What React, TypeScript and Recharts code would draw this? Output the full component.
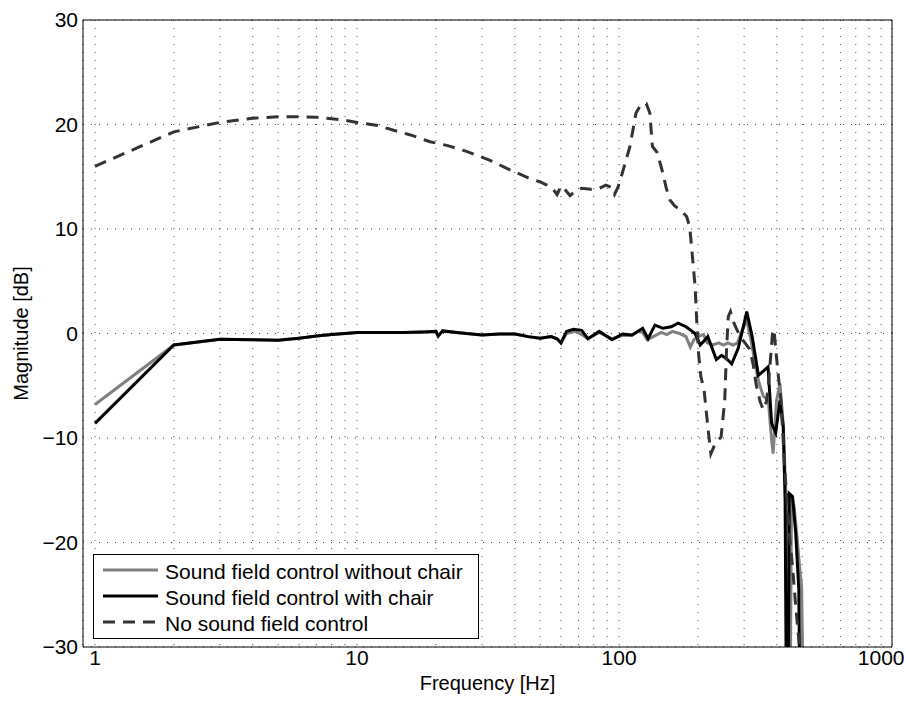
import { LineChart, Line, XAxis, YAxis, CartesianGrid } from "recharts";

const W = 906;
const H = 702;
const FONT = "'Liberation Sans', Arial, Helvetica, sans-serif";

// axis setup
const freqDomain = [0.9, 1100];
const dbDomain = [-30, 30];
const majorTicks = [1, 10, 100, 1000];
const allTicks = [
  1, 2, 3, 4, 5, 6, 7, 8, 9,
  10, 20, 30, 40, 50, 60, 70, 80, 90,
  100, 200, 300, 400, 500, 600, 700, 800, 900, 1000,
];
const dbTicks = [-30, -20, -10, 0, 10, 20, 30];

// Sound field control without chair (grey)
const withoutChairFreq = [
  1, 2, 3, 4, 5, 6, 7, 8, 9, 10, 12, 15, 18, 20, 20.4, 21.2, 25, 30, 35, 40, 45, 50, 55, 58, 60,
  63, 68, 72, 76, 84, 94, 103, 112, 118, 123, 128, 135, 145, 152, 160, 170, 180, 187, 193, 200,
  210, 217, 228, 240, 250, 260, 272, 283, 292, 300, 307, 320, 340, 355, 371, 382, 387, 399, 411,
  423, 436, 445, 450, 455, 465, 476, 487, 497, 504,
];
const withoutChairDb = [
  -6.8, -1.1, -0.55, -0.6, -0.65, -0.45, -0.25, -0.1, 0.0, 0.1, 0.1, 0.1, 0.15, 0.2, -0.25, 0.25,
  0.05, -0.15, -0.05, -0.05, -0.3, -0.45, -0.3, -0.5, -0.9,
  0.0, 0.2, -0.1, -0.5, 0.1, -0.5, -0.2, -0.2, 0.2, 0.1, -0.6, -0.3, 0.1, -0.1, 0.2, 0.0, -0.3,
  -1.3, -0.6, -0.3, -0.1, -0.9, -1.1, -0.9, -1.1, -0.9, -1.1, -0.9, 0.0, 0.7, 1.3, -0.9, -4.5,
  -6.0, -6.4, -10.2, -11.5, -6.4, -4.8, -8.6, -17.5, -34, -34, -15.6, -16.5, -19.1, -22.0, -24.2,
  -34,
];

// Sound field control with chair (black)
const withChairFreq = [
  1, 2, 3, 4, 5, 6, 7, 8, 9, 10, 12, 15, 18, 20, 20.4, 21.2, 25, 30, 35, 40, 45, 50, 55, 58, 60,
  63, 67, 72, 76, 84, 94, 103, 112, 123, 129, 137, 147, 158, 168, 180, 195, 204, 218, 235, 246,
  257, 269, 285, 300, 307, 322, 340, 355, 370, 382, 396, 411, 423, 430, 436, 441, 446, 459, 472,
  485, 492,
];
const withChairDb = [
  -8.6, -1.1, -0.55, -0.6, -0.65, -0.45, -0.25, -0.1, 0.0, 0.1, 0.1, 0.1, 0.15, 0.2, -0.25, 0.25,
  0.05, -0.15, -0.05, -0.05, -0.3, -0.45, -0.3, -0.5, -0.9,
  0.2, 0.4, 0.3, -0.5, 0.2, -0.6, -0.05, -0.15, 0.5, -0.5, 0.8, 0.5, 0.65, 1.0, 0.65, 0.0, -1.1,
  -0.3, -2.5, -2.1, -2.4, -2.9, -1.4, 1.0, 2.1, -0.3, -4.0, -3.6, -3.2, -8.6, -9.5, -6.4, -8.9,
  -16, -40, -40, -15.3, -15.6, -19.1, -24.5, -40,
];

// No sound field control (dashed)
const noControlFreq = [
  1, 2, 3, 4, 5, 6, 7, 8, 9, 10, 12, 14, 16, 19, 22, 26, 32, 38, 45, 50, 53, 56, 58, 60, 62, 65,
  68, 72, 78, 84, 89, 93, 96, 99, 103, 110, 116, 121, 127, 131, 134, 140, 147, 151, 156, 163, 172,
  181, 186, 189, 195, 198, 201, 205, 211, 218, 224, 233, 245, 253, 257, 261, 266, 272, 280, 290,
  300, 315, 325, 333, 345, 355, 365, 371, 378, 385, 390, 396, 405, 415, 428, 446, 459, 472, 485,
  500,
];
const noControlDb = [
  16.0, 19.3, 20.2, 20.6, 20.75, 20.75, 20.7, 20.55, 20.4, 20.2, 19.9, 19.4, 19.0, 18.35, 18.0,
  17.45, 16.6, 15.7, 14.9, 14.5, 14.2, 13.8, 13.3, 14.1, 13.8, 13.2, 13.6, 13.9, 13.8, 13.9, 14.2,
  14.0, 13.3, 14.0, 15.4, 17.9, 21.1, 21.9, 22.0, 21.1, 17.9, 17.3, 15.3, 14.0, 12.8, 12.2, 11.8,
  11.2, 10.2, 8.3, 4.5, 1.0, -1.9, -4.1, -5.4, -8.9, -11.5, -10.5, -9.9, -6.4, -1.6, 1.6, 2.1,
  1.2, 0.5, -0.3, -0.8, -1.5, -3.0, -4.8, -6.5, -7.3, -6.5, -5.1, -2.5, 0.0, 0.4, -1.5, -4.0,
  -6.5, -12.7, -19.1, -22.3, -26.1, -29.3, -34,
];

const toRows = (freq: number[], db: number[]) => freq.map((f, i) => ({ f, db: db[i] }));

const series = [
  { name: "Sound field control without chair", data: toRows(withoutChairFreq, withoutChairDb), color: "#808080", dash: undefined },
  { name: "Sound field control with chair", data: toRows(withChairFreq, withChairDb), color: "#000000", dash: undefined },
  { name: "No sound field control", data: toRows(noControlFreq, noControlDb), color: "#333333", dash: "12 8" },
];

const fmtDb = (v: number) => (v < 0 ? "\u2212" + Math.abs(v) : String(v));
const fmtFreq = (v: number) => (majorTicks.includes(v) ? String(v) : "");

function LegendBox() {
  return (
    <svg width={386} height={85} style={{ position: "absolute", left: 93, top: 554 }}>
      <rect x={0.5} y={0.5} width={385} height={84} fill="#fff" stroke="#000" strokeWidth={1} />
      {series.map((s, i) => (
        <g key={s.name}>
          <line
            x1={10}
            x2={65}
            y1={16 + i * 26}
            y2={16 + i * 26}
            stroke={s.color}
            strokeWidth={3}
            strokeDasharray={s.dash}
          />
          <text x={72} y={16 + i * 26 + 8.5} fontSize={21} fontFamily={FONT} fill="#000">
            {s.name}
          </text>
        </g>
      ))}
    </svg>
  );
}

const logAxis = { type: "number" as const, scale: "log" as const, domain: freqDomain, allowDataOverflow: true };
const dbAxis = { type: "number" as const, domain: dbDomain, allowDataOverflow: true, ticks: dbTicks };

export default function App() {
  return (
    <div style={{ position: "absolute", left: 0, top: 0, width: W, height: H, fontFamily: FONT, background: "#fff" }}>
      <LineChart width={W} height={H} margin={{ top: 20, right: 14, left: 0, bottom: 0 }}>
        <CartesianGrid xAxisId="x" yAxisId="y" stroke="#444" strokeDasharray="1 7" />

        {/* labelled bottom axis */}
        <XAxis
          xAxisId="x"
          dataKey="f"
          {...logAxis}
          ticks={allTicks}
          interval={0}
          tickFormatter={fmtFreq}
          tickLine={false}
          tickSize={0}
          tickMargin={3}
          height={55}
          stroke="#000"
          tick={{ fill: "#000", fontSize: 21, fontFamily: FONT }}
          label={{
            value: "Frequency [Hz]",
            position: "insideBottom",
            offset: 12,
            style: { fontSize: 20, fill: "#000", fontFamily: FONT },
          }}
        />
        {/* inner tick marks, bottom + top */}
        <XAxis xAxisId="xmin" {...logAxis} ticks={allTicks} interval={0}
          mirror height={1} tick={false} axisLine={false} tickSize={5} stroke="#000" />
        <XAxis xAxisId="xmaj" {...logAxis} ticks={majorTicks} interval={0}
          mirror height={1} tick={false} axisLine={false} tickSize={8} stroke="#000" />
        <XAxis xAxisId="xtop" orientation="top" {...logAxis} ticks={allTicks} interval={0}
          mirror height={1} tick={false} tickSize={5} stroke="#000" />
        <XAxis xAxisId="xtopmaj" orientation="top" {...logAxis} ticks={majorTicks} interval={0}
          mirror height={1} tick={false} axisLine={false} tickSize={8} stroke="#000" />

        <YAxis
          yAxisId="y"
          {...dbAxis}
          width={83}
          tickLine={false}
          tickSize={0}
          tickMargin={5}
          tickFormatter={fmtDb}
          stroke="#000"
          tick={{ fill: "#000", fontSize: 21, fontFamily: FONT }}
          label={{
            value: "Magnitude [dB]",
            angle: -90,
            position: "insideLeft",
            offset: 20.5,
            style: { fontSize: 20, fill: "#000", fontFamily: FONT, textAnchor: "middle" },
          }}
        />
        <YAxis yAxisId="yin" {...dbAxis} mirror width={1} tick={false} axisLine={false} tickSize={8} stroke="#000" />
        <YAxis yAxisId="yright" orientation="right" {...dbAxis} mirror width={1} tick={false} tickSize={8} stroke="#000" />

        {series.map((s) => (
          <Line
            key={s.name}
            xAxisId="x"
            yAxisId="y"
            data={s.data}
            dataKey="db"
            name={s.name}
            type="linear"
            stroke={s.color}
            strokeWidth={3}
            strokeDasharray={s.dash}
            dot={false}
            activeDot={false}
            isAnimationActive={false}
          />
        ))}
      </LineChart>
      <LegendBox />
    </div>
  );
}
